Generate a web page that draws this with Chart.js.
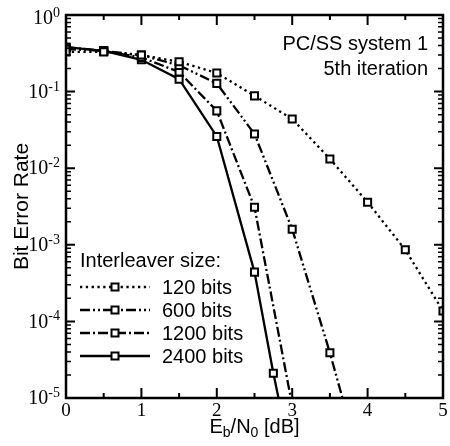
<!DOCTYPE html>
<html>
<head>
<meta charset="utf-8">
<script src="https://cdn.jsdelivr.net/npm/chart.js@4"></script>
<style>
  body { margin: 0; background: #fff; }
  canvas { display: block; }
</style>
</head>
<body>
<canvas id="berChart" width="450" height="446"></canvas>
<script>
// Eb/N0 [dB] positions for each curve
const ebn0_120 = [0, 0.5, 1, 1.5, 2, 2.5, 3, 3.5, 4, 4.5, 5];
const ebn0_600 = [0, 0.5, 1, 1.5, 2, 2.5, 3, 3.5, 4];
const ebn0_1200 = [0, 0.5, 1, 1.5, 2, 2.5, 3];
const ebn0_2400 = [0, 0.5, 1, 1.5, 2, 2.5, 2.75, 3];

// bit error rate, 5th iteration
const ber_120 = [0.33, 0.33, 0.30, 0.245, 0.175, 0.088, 0.044, 0.0132, 0.0036, 8.6e-4, 1.37e-4];
const ber_600 = [0.36, 0.34, 0.30, 0.22, 0.128, 0.028, 1.6e-3, 3.9e-5, 6.5e-7];
const ber_1200 = [0.38, 0.34, 0.28, 0.18, 0.056, 3.1e-3, 8e-6];
const ber_2400 = [0.38, 0.34, 0.26, 0.145, 0.026, 4.4e-4, 2.1e-5, 1.4e-6];

const seriesLabels = ["120 bits", "600 bits", "1200 bits", "2400 bits"];
const xTicks = [0, 1, 2, 3, 4, 5];
const yExponents = [0, -1, -2, -3, -4, -5];

const SANS = "'Liberation Sans', Arial, sans-serif";
const SERIF = "'Liberation Serif', 'Times New Roman', serif";

function pts(xs, ys) {
  return ys.map((y, i) => ({ x: xs[i], y: y }));
}

function curve(label, xs, ys, dash) {
  return {
    label: label,
    data: pts(xs, ys),
    borderColor: "#000",
    borderWidth: 2.3,
    borderDash: dash,
    borderCapStyle: "butt",
    tension: 0,
    pointStyle: "rect",
    pointRadius: 5,
    pointBorderWidth: 2,
    pointBorderColor: "#000",
    pointBackgroundColor: "#fff"
  };
}

const datasets = [
  curve(seriesLabels[0], ebn0_120, ber_120, [2.3, 3.5]),
  curve(seriesLabels[1], ebn0_600, ber_600, [10, 3, 2, 3, 2, 3]),
  curve(seriesLabels[2], ebn0_1200, ber_1200, [10, 3, 2, 3]),
  curve(seriesLabels[3], ebn0_2400, ber_2400, [])
];

const decorPlugin = {
  id: "decor",
  afterDraw(chart) {
    const ctx = chart.ctx;
    const a = chart.chartArea;
    const xs = chart.scales.x;
    const ys = chart.scales.y;
    ctx.save();
    ctx.strokeStyle = "#000";
    ctx.fillStyle = "#000";

    // frame
    ctx.setLineDash([]);
    ctx.lineWidth = 2.5;
    ctx.strokeRect(a.left, a.top, a.right - a.left, a.bottom - a.top);

    // x ticks (inward, top and bottom)
    for (let v = 0; v <= 5; v += 0.5) {
      const px = xs.getPixelForValue(v);
      const len = Number.isInteger(v) ? 10 : 5;
      ctx.lineWidth = 2;
      ctx.beginPath();
      ctx.moveTo(px, a.bottom); ctx.lineTo(px, a.bottom - len);
      ctx.moveTo(px, a.top); ctx.lineTo(px, a.top + len);
      ctx.stroke();
    }
    // y ticks (inward, left and right)
    for (let e = -5; e <= 0; e++) {
      for (let k = 1; k <= 9; k++) {
        const val = k * Math.pow(10, e);
        if (val > 1) break;
        const py = ys.getPixelForValue(val);
        const len = k === 1 ? 9 : 5;
        ctx.lineWidth = k === 1 ? 2 : 1.5;
        ctx.beginPath();
        ctx.moveTo(a.left, py); ctx.lineTo(a.left + len, py);
        ctx.moveTo(a.right, py); ctx.lineTo(a.right - len, py);
        ctx.stroke();
      }
    }

    // x tick labels
    ctx.font = "19px " + SERIF;
    ctx.textAlign = "center";
    ctx.textBaseline = "top";
    xTicks.forEach(v => ctx.fillText(String(v), xs.getPixelForValue(v), a.bottom + 4));

    // y tick labels: 10 with raised exponent
    yExponents.forEach(e => {
      let py = ys.getPixelForValue(Math.pow(10, e));
      if (e === 0) py += 3;
      const exp = String(e);
      ctx.font = "14px " + SERIF;
      const ew = ctx.measureText(exp).width;
      const xr = a.left - 6;
      ctx.textAlign = "left";
      ctx.textBaseline = "alphabetic";
      ctx.fillText(exp, xr - ew, py - 1);
      ctx.font = "20px " + SERIF;
      ctx.textAlign = "right";
      ctx.textBaseline = "middle";
      ctx.fillText("10", xr - ew, py + 1);
    });

    // y axis title
    ctx.save();
    ctx.translate(28, (a.top + a.bottom) / 2);
    ctx.rotate(-Math.PI / 2);
    ctx.font = "21px " + SANS;
    ctx.textAlign = "center";
    ctx.textBaseline = "alphabetic";
    ctx.fillText("Bit Error Rate", 0, 0);
    ctx.restore();

    // x axis title with subscripts
    const parts = [["E", 20, 0], ["b", 14, 4], ["/N", 20, 0], ["0", 14, 4], [" [dB]", 20, 0]];
    let total = 0;
    parts.forEach(p => { ctx.font = p[1] + "px " + SANS; total += ctx.measureText(p[0]).width; });
    let cx = (a.left + a.right) / 2 - total / 2;
    ctx.textAlign = "left";
    ctx.textBaseline = "alphabetic";
    parts.forEach(p => {
      ctx.font = p[1] + "px " + SANS;
      ctx.fillText(p[0], cx, 433 + p[2]);
      cx += ctx.measureText(p[0]).width;
    });

    // annotation
    ctx.font = "20px " + SANS;
    ctx.textAlign = "right";
    ctx.fillText("PC/SS system 1", 428, 50);
    ctx.fillText("5th iteration", 428, 75);

    // legend
    ctx.textAlign = "left";
    ctx.fillText("Interleaver size:", 80, 267);
    const rowY = [287, 310, 333, 356];
    chart.data.datasets.forEach((ds, i) => {
      const y = rowY[i];
      ctx.lineWidth = ds.borderWidth;
      ctx.lineCap = "butt";
      ctx.setLineDash(ds.borderDash);
      ctx.beginPath();
      ctx.moveTo(80, y); ctx.lineTo(150, y);
      ctx.stroke();
      ctx.setLineDash([]);
      ctx.fillStyle = "#fff";
      ctx.fillRect(111.5, y - 3.5, 7, 7);
      ctx.lineWidth = 2;
      ctx.strokeRect(111.5, y - 3.5, 7, 7);
      ctx.fillStyle = "#000";
      ctx.textBaseline = "middle";
      ctx.font = "20px " + SANS;
      ctx.fillText(ds.label, 162, y + 1);
    });
    ctx.restore();
  }
};

const berChart = new Chart(document.getElementById("berChart"), {
  type: "line",
  data: { datasets: datasets },
  options: {
    responsive: false,
    animation: false,
    devicePixelRatio: 1,
    layout: { padding: { left: 66, right: 2, top: 15, bottom: 48 } },
    scales: {
      x: { type: "linear", min: 0, max: 5, display: false },
      y: { type: "logarithmic", min: 1e-5, max: 1, display: false }
    },
    plugins: {
      legend: { display: false },
      tooltip: { enabled: false }
    }
  },
  plugins: [decorPlugin]
});
</script>
</body>
</html>
